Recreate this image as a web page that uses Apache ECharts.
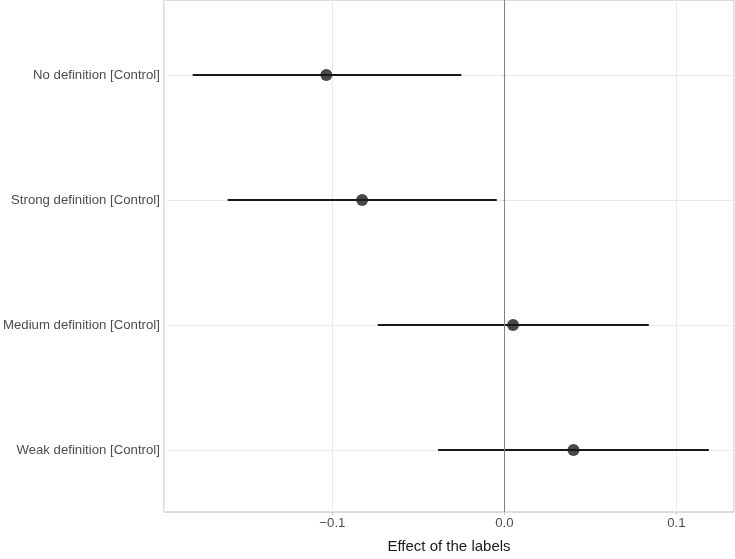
<!DOCTYPE html>
<html>
<head>
<meta charset="utf-8">
<script src="https://cdn.jsdelivr.net/npm/echarts@6/dist/echarts.min.js"></script>
<style>
html,body{margin:0;padding:0;background:#fff;}
#chart{width:735px;height:559px;}
</style>
</head>
<body>
<div id="chart"></div>
<script>
// Data (top to bottom)
const categories = ["No definition [Control]", "Strong definition [Control]", "Medium definition [Control]", "Weak definition [Control]"];
const estimates = [-0.1047, -0.0838, 0.0044, 0.0397];
const lower = [-0.1828, -0.1624, -0.0747, -0.0394];
const upper = [-0.0258, -0.0051, 0.0837, 0.1188];
const xTicks = [-0.1, 0.0, 0.1];
const xTitle = "Effect of the labels";

const xMin = -0.1979, xMax = 0.1335;
const font = "'Liberation Sans', Arial, Helvetica, sans-serif";

const chart = echarts.init(document.getElementById('chart'), null, {renderer: 'canvas'});

const fmtX = v => {
  for (const t of xTicks) {
    if (Math.abs(v - t) < 1e-9) return t.toFixed(1).replace('-', '\u2212');
  }
  return '';
};

const option = {
  backgroundColor: '#ffffff',
  animation: false,
  grid: [
    {left: 164, right: 1, top: 0, bottom: 34, show: true, borderColor: '#b8b8b8', borderWidth: 1, backgroundColor: 'transparent', containLabel: false},
    {left: 164, right: 1, top: 75, bottom: 109, containLabel: false}
  ],
  xAxis: [
    {
      gridIndex: 0, type: 'value', min: xMin, max: xMax, splitNumber: 3,
      axisLine: {show: false},
      axisTick: {show: true, length: 3, lineStyle: {color: '#c8c8c8'}},
      axisLabel: {formatter: fmtX, color: '#4d4d4d', fontSize: 13.2, fontFamily: font, margin: 5, showMinLabel: false, showMaxLabel: false},
      splitLine: {show: true, lineStyle: {color: '#ebebeb', width: 1}},
      name: xTitle, nameLocation: 'middle', nameGap: 27,
      nameTextStyle: {color: '#1a1a1a', fontSize: 15, fontFamily: font}
    },
    {
      gridIndex: 1, type: 'value', min: xMin, max: xMax, show: false
    }
  ],
  yAxis: [
    {gridIndex: 0, type: 'value', min: 0, max: 1, show: false},
    {
      gridIndex: 1, type: 'category', data: categories, inverse: true, boundaryGap: false,
      axisLine: {show: false},
      axisTick: {show: true, length: 3, lineStyle: {color: '#c8c8c8'}},
      axisLabel: {color: '#4d4d4d', fontSize: 13.2, fontFamily: font, margin: 7},
      splitLine: {show: true, lineStyle: {color: '#ebebeb', width: 1}}
    }
  ],
  series: [
    {
      type: 'line', xAxisIndex: 0, yAxisIndex: 0, data: [], silent: true,
      markLine: {
        silent: true, symbol: ['none', 'none'], label: {show: false},
        lineStyle: {color: '#808080', type: 'solid', width: 1},
        data: [{xAxis: 0}]
      }
    },
    {
      type: 'custom', xAxisIndex: 1, yAxisIndex: 1, silent: true,
      data: categories.map((c, i) => [lower[i], upper[i], i]),
      encode: {x: [0, 1], y: 2},
      renderItem: function (params, api) {
        const a = api.coord([api.value(0), api.value(2)]);
        const b = api.coord([api.value(1), api.value(2)]);
        return {type: 'line', shape: {x1: a[0], y1: a[1], x2: b[0], y2: b[1]},
          style: {stroke: '#1a1a1a', lineWidth: 1.8}};
      },
      z: 3
    },
    {
      type: 'scatter', xAxisIndex: 1, yAxisIndex: 1, silent: true,
      data: categories.map((c, i) => [estimates[i], i]),
      symbol: 'circle', symbolSize: 12,
      itemStyle: {color: '#1a1a1a'},
      z: 4
    }
  ]
};
chart.setOption(option);
</script>
</body>
</html>
